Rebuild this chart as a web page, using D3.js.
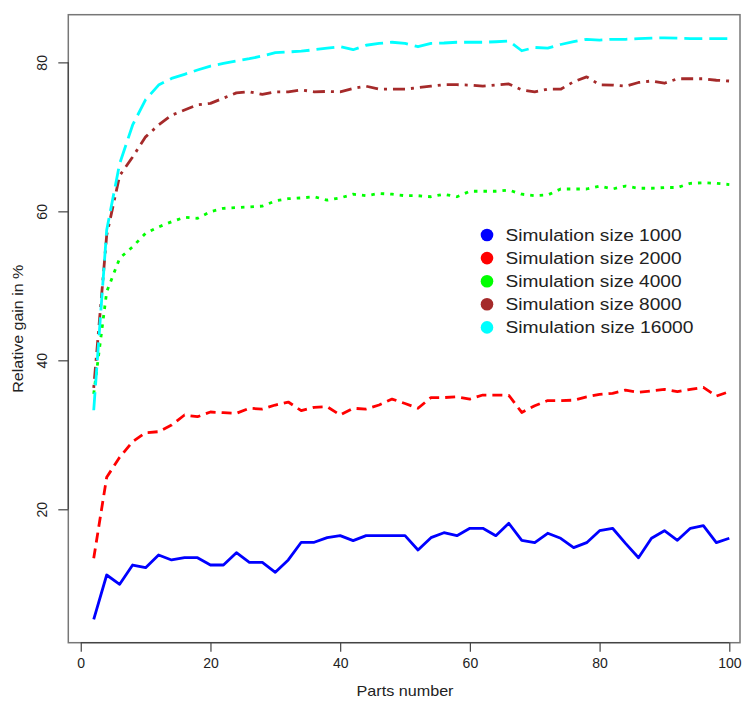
<!DOCTYPE html>
<html><head><meta charset="utf-8">
<script src="https://cdn.jsdelivr.net/npm/d3@7"></script>
<style>
html,body{margin:0;padding:0;background:#fff;}
svg{display:block;font-family:"Liberation Sans",Arial,Helvetica,sans-serif;}
</style></head>
<body>
<svg id="chart" width="745" height="702"></svg>
<script>
const parts = [2,4,6,8,10,12,14,16,18,20,22,24,26,28,30,32,34,36,38,40,42,44,46,48,50,52,54,56,58,60,62,64,66,68,70,72,74,76,78,80,82,84,86,88,90,92,94,96,98,100];
const size1000 = [5.23,11.18,9.93,12.52,12.16,13.87,13.2,13.5,13.5,12.52,12.52,14.18,12.88,12.88,11.54,13.2,15.57,15.57,16.19,16.46,15.79,16.46,16.46,16.46,16.46,14.54,16.19,16.86,16.46,17.45,17.45,16.46,18.12,15.84,15.52,16.78,16.11,14.85,15.52,17.13,17.45,15.43,13.5,16.11,17.13,15.84,17.45,17.8,15.52,16.11];
const size2000 = [13.42,24.3,26.98,29.08,30.28,30.42,31.3,32.66,32.43,33.06,32.97,32.88,33.56,33.46,34.0,34.4,33.24,33.69,33.77,32.66,33.56,33.46,34.0,34.8,34.2,33.56,35.0,35.0,35.1,34.8,35.34,35.34,35.3,33.0,33.9,34.6,34.6,34.65,35.1,35.43,35.57,36.0,35.7,35.9,36.1,35.8,36.1,36.37,35.2,35.8];
const size4000 = [35.5,49.2,53.7,55.25,57.05,57.9,58.6,59.2,59.06,59.95,60.4,60.5,60.6,60.7,61.4,61.7,61.8,61.96,61.5,61.8,62.3,62.1,62.4,62.3,62.1,62.1,61.96,62.3,61.96,62.7,62.7,62.7,62.86,62.3,62.1,62.2,63.0,63.0,63.0,63.4,63.0,63.4,63.1,63.1,63.2,63.2,63.76,63.84,63.76,63.6];
const size8000 = [36.3,56.8,64.8,67.3,70.0,71.6,72.9,73.6,74.3,74.5,75.2,75.9,76.05,75.7,76.05,76.05,76.3,76.05,76.1,76.05,76.5,76.8,76.4,76.4,76.4,76.6,76.8,77.0,77.0,76.95,76.8,76.95,77.1,76.3,76.05,76.4,76.4,77.4,78.06,77.0,76.95,76.8,77.3,77.5,77.2,77.8,77.8,77.8,77.6,77.5];
const size16000 = [33.3,57.5,66.4,71.6,75.0,76.95,77.85,78.4,78.97,79.5,79.86,80.2,80.5,80.85,81.3,81.4,81.5,81.7,81.9,82.1,81.7,82.3,82.55,82.7,82.55,82.1,82.55,82.6,82.7,82.7,82.7,82.77,82.86,81.56,82.0,81.9,82.4,82.77,83.1,83.0,83.1,83.1,83.2,83.25,83.3,83.25,83.2,83.2,83.2,83.2];
const seriesNames = ["Simulation size 1000","Simulation size 2000","Simulation size 4000","Simulation size 8000","Simulation size 16000"];
const xTicks = [0,20,40,60,80,100];
const yTicks = [20,40,60,80];
const xLabel = "Parts number";
const yLabel = "Relative gain in %";

const seriesValues = [size1000,size2000,size4000,size8000,size16000];
const colors = ["#0000FF","#FF0000","#00FF00","#A52A2A","#00FFFF"];
const dashes = [null,"10,6","3.5,6","3,6,12,6","18,7"];

const svg = d3.select("#chart");
const L=68.3, R=740, T=14.7, B=642.7;
const x = d3.scaleLinear().domain([-1.92,101.65]).range([L,R]);
const y = d3.scaleLinear().domain([2.09,86.4]).range([B,T]);

// box
svg.append("rect").attr("x",L).attr("y",T).attr("width",R-L).attr("height",B-T)
  .attr("fill","none").attr("stroke","#777").attr("stroke-width",1.5);

// axes
const xAxis = svg.append("g").attr("transform",`translate(0,${B})`)
  .call(d3.axisBottom(x).tickValues(xTicks).tickSize(9).tickSizeOuter(0).tickPadding(8));
const yAxis = svg.append("g").attr("transform",`translate(${L},0)`)
  .call(d3.axisLeft(y).tickValues(yTicks).tickSize(10).tickSizeOuter(0).tickPadding(0));
[xAxis,yAxis].forEach(g=>{
  g.select(".domain").remove();
  g.selectAll(".tick line").attr("stroke","#444").attr("stroke-width",1.2);
  g.selectAll(".tick text").attr("fill","#222").style("font-size","14px");
});
// axis lines spanning first..last tick
svg.append("line").attr("x1",x(xTicks[0])).attr("x2",x(xTicks[xTicks.length-1]))
  .attr("y1",B).attr("y2",B).attr("stroke","#444").attr("stroke-width",1.2);
svg.append("line").attr("x1",L).attr("x2",L)
  .attr("y1",y(yTicks[0])).attr("y2",y(yTicks[yTicks.length-1])).attr("stroke","#444").attr("stroke-width",1.2);

xAxis.selectAll(".tick text").attr("dy",null).attr("y",25);
yAxis.selectAll(".tick text")
  .attr("x",null).attr("dy",null).attr("text-anchor","middle")
  .attr("transform","translate(-26,0) rotate(-90) translate(0,5)");

// axis titles
svg.append("text").attr("x",(x(0)+x(100))/2).attr("y",696).attr("text-anchor","middle")
  .attr("fill","#222").style("font-size","15px")
  .attr("textLength",97).attr("lengthAdjust","spacingAndGlyphs").text(xLabel);
svg.append("text").attr("transform",`translate(23,${(T+B)/2}) rotate(-90)`).attr("text-anchor","middle")
  .attr("fill","#222").style("font-size","15px")
  .attr("textLength",128).attr("lengthAdjust","spacingAndGlyphs").text(yLabel);

// lines
const line = d3.line().x((d,i)=>x(parts[i])).y(d=>y(d));
seriesValues.forEach((vals,k)=>{
  svg.append("path").datum(vals).attr("d",line)
    .attr("fill","none").attr("stroke",colors[k]).attr("stroke-width",2.8)
    .attr("stroke-linejoin","round")
    .attr("stroke-dasharray",dashes[k]);
});

// legend
const lg = svg.append("g");
seriesNames.forEach((name,k)=>{
  const yy = 235 + k*23.1;
  lg.append("circle").attr("cx",487).attr("cy",yy).attr("r",6.3).attr("fill",colors[k]);
  lg.append("text").attr("x",505.5).attr("y",yy+6).attr("fill","#222")
    .style("font-size","16px")
    .attr("textLength", k===4 ? 188 : 176).attr("lengthAdjust","spacingAndGlyphs")
    .text(name);
});
</script>
</body></html>
